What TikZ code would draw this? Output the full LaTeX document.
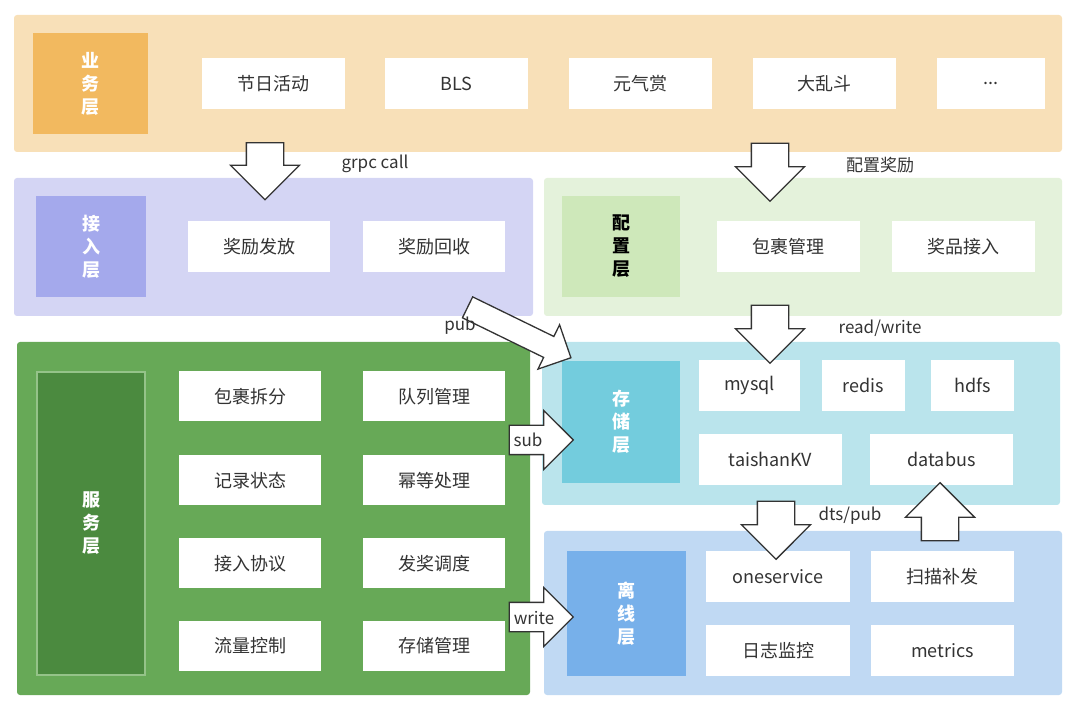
\documentclass[tikz,border=0pt]{standalone}
\usepackage{fontspec}
\setmainfont{Noto Sans CJK SC}
\usetikzlibrary{shapes.arrows}
\definecolor{bizbg}{HTML}{F8E0B8}
\definecolor{bizlab}{HTML}{F2B95F}
\definecolor{accbg}{HTML}{D4D5F4}
\definecolor{acclab}{HTML}{A4A9EC}
\definecolor{cfgbg}{HTML}{E4F2DB}
\definecolor{cfglab}{HTML}{CEE8BA}
\definecolor{svcbg}{HTML}{67A957}
\definecolor{svclab}{HTML}{4B8A3F}
\definecolor{stobg}{HTML}{BAE4EC}
\definecolor{stolab}{HTML}{73CCDD}
\definecolor{offbg}{HTML}{C0D9F3}
\definecolor{offlab}{HTML}{77B0EA}
\definecolor{txt}{HTML}{333333}
\tikzset{
  layer/.style={draw=none, rounded corners=3pt},
  lab/.style={font=\fontsize{18}{23}\selectfont\bfseries, text=white, align=center},
  item/.style={fill=white, font=\fontsize{18}{21}\selectfont, text=txt},
  bigarrow/.style={single arrow, draw=black!80, fill=white, line width=1.3pt,
    single arrow head extend=16pt, single arrow head indent=0pt,
    inner sep=18pt},
  note/.style={font=\fontsize{17}{20}\selectfont, text=txt}
}
\begin{document}
\begin{tikzpicture}[x=1pt, y=-1pt]
\useasboundingbox (0,0) rectangle (1080,708);
% layers
\fill[bizbg, layer] (14,15) rectangle (1062,152);
\fill[accbg, layer] (14,178) rectangle (533,316);
\fill[cfgbg, layer] (544,178) rectangle (1062,316);
\fill[svcbg, layer] (17,342) rectangle (530,695);
\fill[stobg, layer] (542,342) rectangle (1060,505);
\fill[offbg, layer] (544,531) rectangle (1062,695);
% labels
\fill[bizlab] (33,33) rectangle (148,134);
\node[lab] (bizl) at (90.5,83.5) {业\\务\\层};
\fill[acclab] (36,196) rectangle (146,297);
\node[lab] (accl) at (91,246.5) {接\\入\\层};
\fill[cfglab] (562,196) rectangle (680,297);
\node[lab, text=black] (cfgl) at (621,246.5) {配\\置\\层};
\filldraw[fill=svclab, draw=svcbg!70!white, line width=1.5pt] (37,372) rectangle (145,675);
\node[lab] (svcl) at (91,523.5) {服\\务\\层};
\fill[stolab] (562,361) rectangle (680,483);
\node[lab] (stol) at (621,422) {存\\储\\层};
\fill[offlab] (567,551) rectangle (686,676);
\node[lab] (offl) at (626.5,613.5) {离\\线\\层};
% business
\foreach \t/\a/\b in {节日活动/202/345, BLS/385/528, 元气赏/569/712, 大乱斗/753/896}
  \node[item, minimum width={(\b-\a)*1pt}, minimum height=51pt] at ({(\a+\b)/2},83.5) {\t};
\node[item, minimum width=108pt, minimum height=51pt] (more) at (991,83.5) {...};
% access & config
\node[item, minimum width=142pt, minimum height=51pt] (ffa) at (259,246.5) {奖励发放};
\node[item, minimum width=142pt, minimum height=51pt] (ffb) at (434,246.5) {奖励回收};
\node[item, minimum width=143pt, minimum height=51pt] (pkg) at (788.5,246.5) {包裹管理};
\node[item, minimum width=143pt, minimum height=51pt] (prz) at (963.5,246.5) {奖品接入};
% service
\foreach \t/\x/\y in {包裹拆分/250/396.5, 队列管理/434/396.5, 记录状态/250/480.5, 幂等处理/434/480.5,
  接入协议/250/563.5, 发奖调度/434/563.5, 流量控制/250/645.5, 存储管理/434/645.5}
  \node[item, minimum width=142pt, minimum height=50pt] at (\x,\y) {\t};
% storage
\node[item, minimum width=101pt, minimum height=51pt] (mysql) at (749.5,385.5) {mysql};
\node[item, minimum width=83pt, minimum height=51pt] (redis) at (863.5,385.5) {redis};
\node[item, minimum width=83pt, minimum height=51pt] (hdfs) at (972.5,385.5) {hdfs};
\node[item, minimum width=143pt, minimum height=51pt] (tkv) at (770.5,459.5) {taishanKV};
\node[item, minimum width=143pt, minimum height=51pt] (dbus) at (941.5,459.5) {databus};
% offline
\node[item, minimum width=144pt, minimum height=51pt] (ones) at (778,576.5) {oneservice};
\node[item, minimum width=143pt, minimum height=51pt] (scan) at (942.5,576.5) {扫描补发};
\node[item, minimum width=144pt, minimum height=51pt] (logm) at (778,650.5) {日志监控};
\node[item, minimum width=143pt, minimum height=51pt] (metr) at (942.5,650.5) {metrics};
% arrows
\node[bigarrow, minimum height=57pt, shape border rotate=270] (a1) at (265,162) {};
\node[bigarrow, minimum height=58pt, shape border rotate=270] (a2) at (770,163) {};
\node[bigarrow, minimum height=58pt, shape border rotate=270] (a3) at (770,325) {};
\node[bigarrow, minimum height=58pt, shape border rotate=270] (a4) at (776,521) {};
\node[bigarrow, minimum height=58pt, shape border rotate=90] (a5) at (940,521) {};
\node[bigarrow, inner sep=11pt, single arrow head extend=13pt, minimum height=115pt, rotate=-26] (a6) at (514,330) {};
\node[bigarrow, inner sep=14pt, single arrow head extend=15pt, minimum height=64pt] (a7) at (534,440) {};
\node[bigarrow, inner sep=14pt, single arrow head extend=15pt, minimum height=64pt] (a8) at (534,617) {};
% notes
\node[note] (n1) at (375,164) {grpc call};
\node[note] (n2) at (880,165) {配置奖励};
\node[note] (n3) at (460,326) {pub};
\node[note] (n4) at (880,328) {read/write};
\node[note] (n5) at (528,440) {sub};
\node[note] (n6) at (850,516) {dts/pub};
\node[note] (n7) at (534,618) {write};
\end{tikzpicture}
\end{document}
